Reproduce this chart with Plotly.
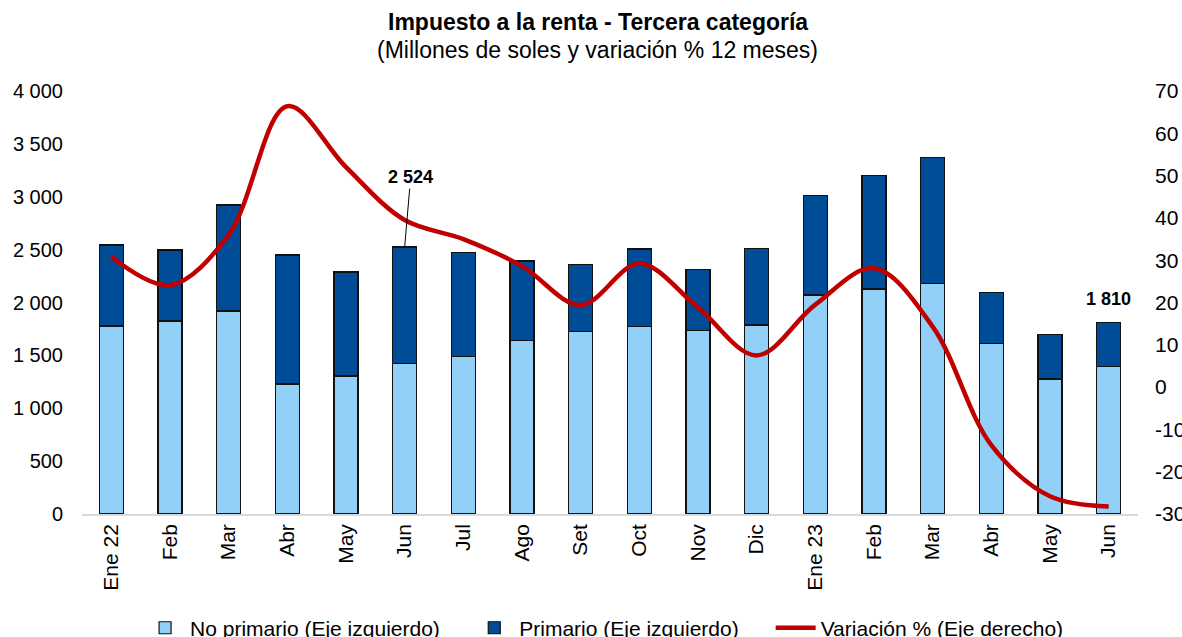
import plotly.graph_objects as go

months = ["Ene 22", "Feb", "Mar", "Abr", "May", "Jun", "Jul", "Ago", "Set", "Oct",
          "Nov", "Dic", "Ene 23", "Feb", "Mar", "Abr", "May", "Jun"]
no_primario = [1778, 1825, 1920, 1229, 1305, 1421, 1488, 1639, 1724, 1771,
               1733, 1787, 2071, 2128, 2178, 1610, 1277, 1397]
primario = [766, 671, 1002, 1220, 983, 1103, 987, 753, 637, 735,
            577, 722, 939, 1071, 1195, 486, 419, 413]
variacion = [30.8, 24.1, 36.0, 66.4, 52.0, 39.5, 35.0, 28.6, 19.4, 29.2,
             18.8, 7.5, 19.5, 28.1, 14.3, -13.7, -25.8, -28.2]
left_ticks = [0, 500, 1000, 1500, 2000, 2500, 3000, 3500, 4000]
right_ticks = [-30, -20, -10, 0, 10, 20, 30, 40, 50, 60, 70]
labelled = [5, 17]

x = list(range(len(months)))
total = [a + b for a, b in zip(no_primario, primario)]

FONT = "Liberation Sans, Arial, sans-serif"
LIGHT = "#92D0F8"
DARK = "#004C97"
RED = "#C00000"


def fmt(v):
    return f"{v:,}".replace(",", " ")


fig = go.Figure()
fig.add_trace(go.Bar(
    x=x, y=no_primario, name="No primario (Eje izquierdo)",
    marker=dict(color=LIGHT, line=dict(color="#111111", width=1.2)),
    legend="legend",
))
fig.add_trace(go.Bar(
    x=x, y=primario, name="Primario (Eje izquierdo)",
    marker=dict(color=DARK, line=dict(color="#111111", width=1.2)),
    legend="legend2",
))
fig.add_trace(go.Scatter(
    x=x, y=variacion, name="Variación % (Eje derecho)", yaxis="y2",
    mode="lines", line=dict(color=RED, width=4.5, shape="spline", smoothing=1.0),
    legend="legend3",
))

annotations = [
    dict(text="<b>Impuesto a la renta - Tercera categoría</b>", xref="paper", yref="paper",
         x=0.4886, y=1.163, xanchor="center", yanchor="middle", showarrow=False,
         font=dict(size=23, color="black", family=FONT)),
    dict(text="(Millones de soles y variación % 12 meses)", xref="paper", yref="paper",
         x=0.4886, y=1.097, xanchor="center", yanchor="middle", showarrow=False,
         font=dict(size=23, color="black", family=FONT)),
]
# Jun 22 label with leader line
i = labelled[0]
annotations.append(dict(
    x=x[i], y=total[i], xref="x", yref="y", text=f"<b>{fmt(total[i])}</b>",
    showarrow=True, arrowhead=0, arrowwidth=1, arrowcolor="black",
    ax=6, ay=-70, font=dict(size=18, color="black", family=FONT),
))
i = labelled[1]
annotations.append(dict(
    x=x[i], y=total[i], xref="x", yref="y", text=f"<b>{fmt(total[i])}</b>",
    showarrow=False, yanchor="bottom", yshift=12,
    font=dict(size=18, color="black", family=FONT),
))

legend_common = dict(orientation="h", yref="container", yanchor="middle", y=0.014,
                     xref="container", xanchor="left",
                     font=dict(size=21, color="black", family=FONT),
                     bgcolor="rgba(0,0,0,0)", itemwidth=40)

fig.update_layout(
    width=1182, height=637,
    margin=dict(l=82, r=44, t=91, b=123, autoexpand=False),
    paper_bgcolor="white", plot_bgcolor="white",
    barmode="stack", bargap=0.59,
    font=dict(family=FONT, size=21, color="black"),
    showlegend=True,
    legend=dict(legend_common, x=0.1185),
    legend2=dict(legend_common, x=0.397),
    legend3=dict(legend_common, x=0.652),
    xaxis=dict(
        range=[-0.5, len(months) - 0.5], automargin=False,
        tickmode="array", tickvals=x, ticktext=months, tickangle=-90,
        showgrid=False, zeroline=False, showline=True, linecolor="#D9D9D9", linewidth=1.5,
        ticks="", tickfont=dict(size=21, family=FONT, color="black"),
    ),
    yaxis=dict(
        range=[0, 4000], tickmode="array", tickvals=left_ticks, automargin=False,
        ticktext=[fmt(v) for v in left_ticks],
        showgrid=False, zeroline=False, showline=False, ticks="",
        tickfont=dict(size=20, family=FONT, color="black"), ticklabelstandoff=18,
    ),
    yaxis2=dict(
        range=[-30, 70], tickmode="array", tickvals=right_ticks, automargin=False,
        ticktext=[str(v) for v in right_ticks],
        overlaying="y", side="right",
        showgrid=False, zeroline=False, showline=False, ticks="",
        tickfont=dict(size=21, family=FONT, color="black"), ticklabelstandoff=16,
    ),
    annotations=annotations,
)

fig.write_html("out.html", include_plotlyjs=True, config={"displayModeBar": False},
               post_script="document.body.style.margin='0';document.body.style.overflow='hidden';")
